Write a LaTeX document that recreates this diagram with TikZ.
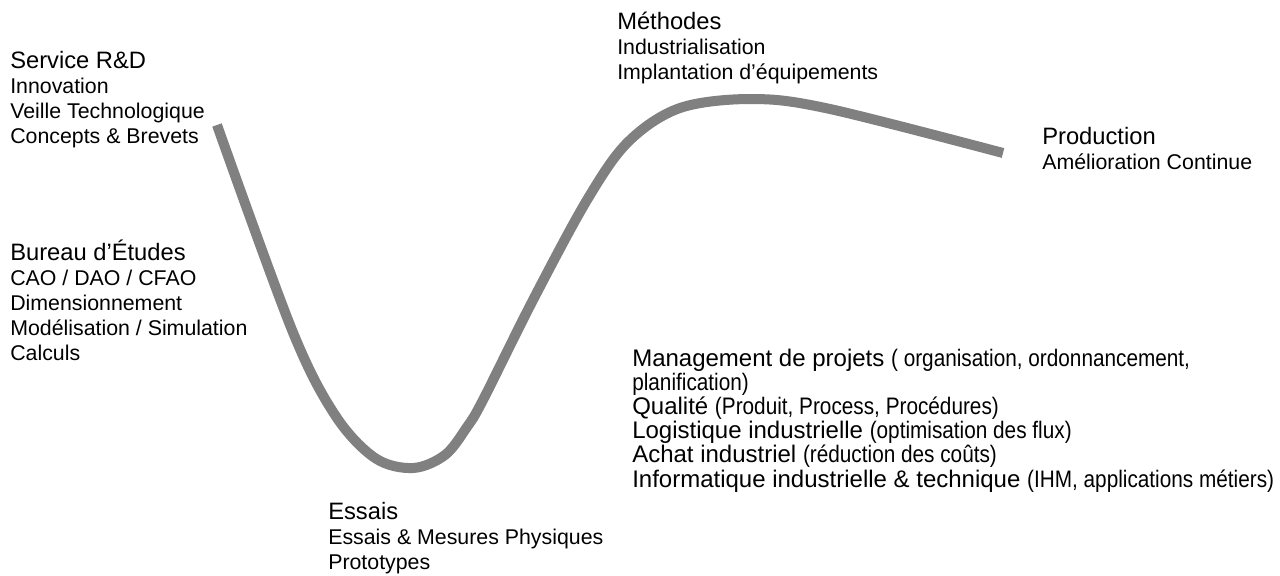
\documentclass[tikz,border=0pt]{standalone}
\usepackage{fontspec}
\setmainfont{Liberation Sans}
\newfontfamily\narrowfont[FakeStretch=0.87]{Liberation Sans}
\usetikzlibrary{positioning}
\definecolor{curvegray}{RGB}{128,128,128}
\lineskiplimit=-20pt

\newcommand\phasehead[1]{{\fontsize{17.8}{18.75}\selectfont #1}}
\newcommand\sidenote[1]{{\narrowfont\fontsize{17.9}{18.15}\selectfont #1}}

\begin{document}
\begin{tikzpicture}[
    x=0.75pt, y=-0.75pt,
    phase/.style={anchor=base west, inner sep=0pt, align=left, font=\fontsize{16}{18.75}\selectfont},
    support/.style={anchor=base west, inner sep=0pt, align=left, font=\fontsize{18}{18.15}\selectfont},
    cycle/.style={line width=7.5pt, draw=curvegray}
]
    \useasboundingbox (0,0) rectangle (1280,575);

    % the development curve
    \draw[cycle] plot[smooth, tension=0.55] coordinates {
        (217,125) (292,330) (335,415) (375,458) (413,468) (445,455)
        (467,427) (483,400) (533,300) (587,200) (628,142) (680,108)
        (753,99) (830,109) (1003,153)};

    % anchors sit on the last line of each block
    \node[phase] (rd) at (10,143) {\phasehead{Service R\&D}\\Innovation\\Veille Technologique\\Concepts \& Brevets};
    \node[phase] (be) at (10,360) {\phasehead{Bureau d’Études}\\CAO / DAO / CFAO\\Dimensionnement\\Modélisation / Simulation\\Calculs};
    \node[phase] (essais) at (328,569) {\phasehead{Essais}\\Essais \& Mesures Physiques\\Prototypes};
    \node[phase] (methodes) at (617,79) {\phasehead{Méthodes}\\Industrialisation\\Implantation d’équipements};
    \node[phase] (prod) at (1042,169) {\phasehead{Production}\\Amélioration Continue};

    \node[support] (mgmt) at (632,487) {Management de projets \sidenote{( organisation, ordonnancement,}\\
        \sidenote{planification)}\\
        Qualité \sidenote{(Produit, Process, Procédures)}\\
        Logistique industrielle \sidenote{(optimisation des flux)}\\
        Achat industriel \sidenote{(réduction des coûts)}\\
        Informatique industrielle \& technique \sidenote{(IHM, applications métiers)}};
\end{tikzpicture}
\end{document}
